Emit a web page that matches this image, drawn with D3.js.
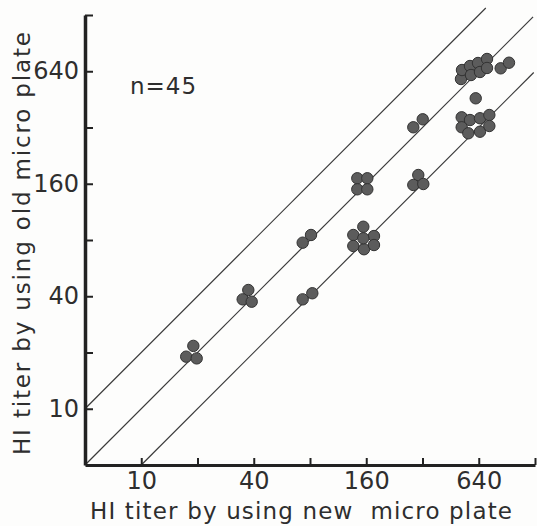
<!DOCTYPE html>
<html>
<head>
<meta charset="utf-8">
<script src="https://cdn.jsdelivr.net/npm/d3@7"></script>
<style>
  html, body { margin: 0; padding: 0; background: #fdfdfc; }
  svg { display: block; }
  text { font-family: "DejaVu Sans", sans-serif; fill: #2e2e2e; }
</style>
</head>
<body>
<svg id="chart" width="537" height="526"></svg>
<script>
// ---- data (titers; clustered points keep their visual spread) ----
const newPlate = [
  19.0, 17.4, 19.8,                 // 20 / 20
  37.4, 34.9, 39.0,                 // 40 / 40
  73.1, 82.3,                       // 80 / 40
  73.1, 81.0,                       // 80 / 80
  143.3, 162.1, 143.3, 162.1,       // 160 / 160
  154.3, 136.4, 176.0, 136.4, 155.6, 176.0, 154.3, // 160 / 80
  303.8, 285.7, 323.2,              // 320 / 160
  285.7, 320.9,                     // 320 / 320
  838.6, 929.0,                     // right pair
  616.5,                            // single
  514.0, 520.6, 574.5, 581.6, 634.2, 649.9, 708.6, 708.6, // 640 / 640
  518.7, 574.5, 649.9, 729.2, 518.7, 562.6, 649.9, 729.2  // 640 / 320
];
const oldPlate = [
  21.7, 19.0, 18.6,
  43.2, 38.5, 37.4,
  38.5, 41.5,
  77.4, 85.1,
  171.2, 171.2, 149.4, 149.4,
  94.2, 85.1, 84.0, 74.3, 71.4, 75.2, 81.7,
  178.2, 157.6, 159.5,
  320.9, 354.0,
  663.5, 711.0,
  458.6,
  581.6, 649.9, 682.7, 610.9, 708.6, 634.2, 744.5, 666.3,
  362.8, 350.9, 358.6, 373.3, 320.9, 298.0, 303.8, 326.0
];
const tickValues = [10, 20, 40, 80, 160, 320, 640, 1280];
const tickLabels = [10, 40, 160, 640];
const lineRatio = [2, 1, 0.5];
const lineFromX = [5, 5, 10];
const lineToX = [698, 1250, 1260];
const nLabel = "n=45";
const xTitle = "HI titer by using new  micro plate";
const yTitle = "HI titer by using old micro plate";

// ---- chart ----
const svg = d3.select("#chart");
const x = d3.scaleLog().base(2).domain([5, 1280]).range([85, 535]);
const y = d3.scaleLog().base(2).domain([5, 1280]).range([465, 15]);

// reference lines
const lineGen = d3.line().x(d => x(d[0])).y(d => y(d[1]));
lineRatio.forEach((r, i) => {
  svg.append("path")
    .attr("d", lineGen([[lineFromX[i], lineFromX[i] * r], [lineToX[i], lineToX[i] * r]]))
    .attr("fill", "none").attr("stroke", "#3a3a3a").attr("stroke-width", 1.2);
});

// axes
const fmt = d => tickLabels.includes(d) ? String(d) : "";
const xAxis = d3.axisBottom(x).tickValues(tickValues).tickFormat(fmt)
  .tickSizeInner(-7).tickSizeOuter(0).tickPadding(7);
const yAxis = d3.axisLeft(y).tickValues(tickValues).tickFormat(fmt)
  .tickSizeInner(-8).tickSizeOuter(0).tickPadding(6);

const gx = svg.append("g").attr("transform", "translate(0,465)").call(xAxis);
const gy = svg.append("g").attr("transform", "translate(85,0)").call(yAxis);

gx.select(".domain").attr("stroke", "#222").attr("stroke-width", 3);
gy.select(".domain").attr("stroke", "#222").attr("stroke-width", 3.5);
gx.selectAll(".tick line").attr("stroke", "#222").attr("stroke-width", 2);
gy.selectAll(".tick line").attr("stroke", "#222").attr("stroke-width", 2);
gx.selectAll(".tick text").attr("font-size", 24).attr("font-family", "DejaVu Sans").attr("fill", "#2e2e2e");
gy.selectAll(".tick text").attr("font-size", 24).attr("font-family", "DejaVu Sans").attr("fill", "#2e2e2e");

// points
svg.append("g").selectAll("circle")
  .data(newPlate.map((v, i) => [v, oldPlate[i]]))
  .join("circle")
  .attr("cx", d => x(d[0]))
  .attr("cy", d => y(d[1]))
  .attr("r", 5.7)
  .attr("fill", "#5c5c5c")
  .attr("stroke", "#333")
  .attr("stroke-width", 1);

// n label
svg.append("text").attr("x", 130).attr("y", 94).attr("font-size", 23)
  .attr("letter-spacing", 1).text(nLabel);

// axis titles
svg.append("text").attr("x", 90).attr("y", 519)
  .attr("font-size", 23).attr("textLength", 422).attr("lengthAdjust", "spacing")
  .style("white-space", "pre").text(xTitle);
svg.append("text").attr("transform", "translate(30,455) rotate(-90)")
  .attr("font-size", 23).attr("textLength", 423).attr("lengthAdjust", "spacing")
  .style("white-space", "pre").text(yTitle);
</script>
</body>
</html>
